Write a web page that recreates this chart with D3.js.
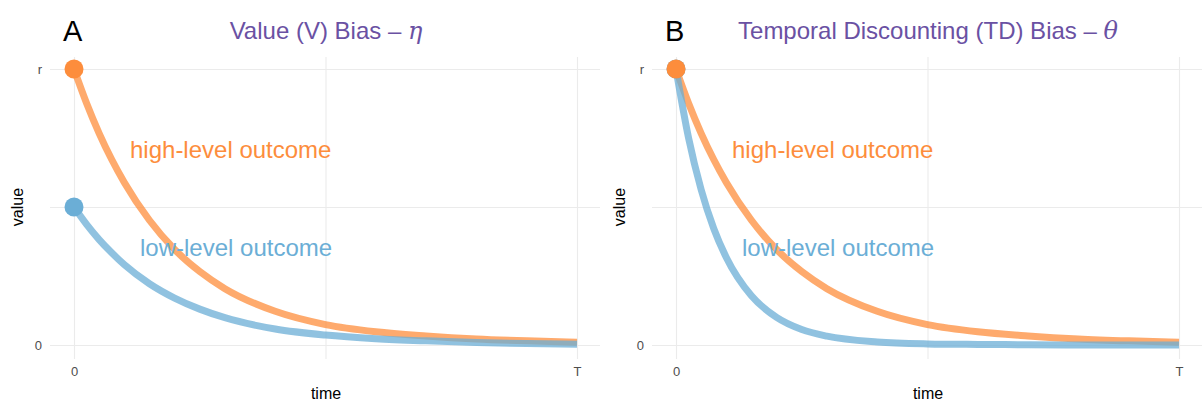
<!DOCTYPE html>
<html>
<head>
<meta charset="utf-8">
<script src="https://cdn.jsdelivr.net/npm/d3@7"></script>
<style>
  body { margin: 0; background: #fff; }
  svg { font-family: "Liberation Sans", Arial, Helvetica, sans-serif; }
  .grid line { stroke: #ebebeb; stroke-width: 1.1; }
  .grid path { display: none; }
  .tick-lab text { fill: #4d4d4d; font-size: 13px; }
  .tick-lab path, .tick-lab line { display: none; }
</style>
</head>
<body>
<div class="Chart"></div>
<script>
// time grid (0 .. T) and values (0 .. r)
var timePoints = [0, 0.025, 0.05, 0.075, 0.1, 0.15, 0.2, 0.25, 0.3, 0.4, 0.5, 0.6, 0.7, 0.8, 0.9, 1.0];
var highA = [1, 0.876, 0.767, 0.672, 0.589, 0.452, 0.346, 0.266, 0.204, 0.122, 0.074, 0.048, 0.033, 0.022, 0.015, 0.010];
var lowA  = [0.5, 0.437, 0.382, 0.334, 0.291, 0.222, 0.170, 0.130, 0.099, 0.058, 0.036, 0.023, 0.015, 0.009, 0.005, 0.003];
var highB = highA;
var lowB  = [1, 0.750, 0.563, 0.422, 0.317, 0.178, 0.100, 0.056, 0.032, 0.011, 0.004, 0.002, 0.001, 0.000, 0.000, 0.000];

var xTicks = [0, 0.5, 1], xTickLabels = ["0", "", "T"];
var yTicks = [0, 0.5, 1], yTickLabels = ["0", "", "r"];

var panels = [
	{ tag: "A", title: "Value (V) Bias \u2013 ", sym: "\u03b7", high: highA, low: lowA, dx: 0 },
	{ tag: "B", title: "Temporal Discounting (TD) Bias \u2013 ", sym: "\u03b8", high: highB, low: lowB, dx: 602 }
];

var orange = "#fd8d3c", blue = "#6baed6", purple = "#6a51a3";

var svg = d3.select(".Chart").append("svg")
	.attr("width", 1203)
	.attr("height", 401);

panels.forEach(function(p){
	var g = svg.append("g").attr("transform", "translate(" + p.dx + ",0)");

	var x = d3.scaleLinear().domain([0, 1]).range([74, 577]);
	var y = d3.scaleLinear().domain([0, 1]).range([345, 69]);

	//grid lines
	g.append("g").attr("class", "grid")
		.attr("transform", "translate(0,57)")
		.call(d3.axisBottom(x).tickValues(xTicks).tickSize(302).tickFormat(""));
	g.append("g").attr("class", "grid")
		.attr("transform", "translate(50,0)")
		.call(d3.axisRight(y).tickValues(yTicks).tickSize(550).tickFormat(""));

	//tick labels
	g.append("g").attr("class", "tick-lab")
		.attr("transform", "translate(0,367)")
		.call(d3.axisBottom(x).tickValues(xTicks).tickSize(0).tickPadding(0)
			.tickFormat(function(d, i){ return xTickLabels[i]; }));
	g.append("g").attr("class", "tick-lab")
		.attr("transform", "translate(42,0)")
		.call(d3.axisLeft(y).tickValues(yTicks).tickSize(0).tickPadding(0)
			.tickFormat(function(d, i){ return yTickLabels[i]; }));

	//axis titles
	g.append("text")
		.attr("x", 326).attr("y", 399)
		.attr("text-anchor", "middle")
		.style("font-size", "16px")
		.text("time");
	g.append("text")
		.attr("transform", "translate(23,207) rotate(-90)")
		.attr("text-anchor", "middle")
		.style("font-size", "16px")
		.text("value");

	//curves
	var line = d3.line()
		.x(function(d){ return x(d[0]); })
		.y(function(d){ return y(d[1]); })
		.curve(d3.curveMonotoneX);

	g.append("path")
		.datum(timePoints.map(function(t, i){ return [t, p.high[i]]; }))
		.attr("d", line)
		.style("fill", "none")
		.style("stroke", orange)
		.style("stroke-width", 7)
		.style("opacity", 0.75);
	g.append("path")
		.datum(timePoints.map(function(t, i){ return [t, p.low[i]]; }))
		.attr("d", line)
		.style("fill", "none")
		.style("stroke", blue)
		.style("stroke-width", 7)
		.style("opacity", 0.75);

	//start points
	g.append("circle")
		.attr("cx", x(0)).attr("cy", y(p.low[0])).attr("r", 9.5)
		.style("fill", blue);
	g.append("circle")
		.attr("cx", x(0)).attr("cy", y(p.high[0])).attr("r", 9.5)
		.style("fill", orange);

	//curve labels
	g.append("text")
		.attr("x", 130).attr("y", 158)
		.style("font-size", "24px")
		.style("fill", orange)
		.text("high-level outcome");
	g.append("text")
		.attr("x", 140).attr("y", 256)
		.style("font-size", "24px")
		.style("fill", blue)
		.text("low-level outcome");

	//panel tag and title
	g.append("text")
		.attr("x", 63).attr("y", 41)
		.style("font-size", "29px")
		.text(p.tag);
	var title = g.append("text")
		.attr("x", 326).attr("y", 39)
		.attr("text-anchor", "middle")
		.style("font-size", "24px")
		.style("fill", purple)
		.text(p.title);
	title.append("tspan")
		.style("font-family", "'DejaVu Serif', 'Liberation Serif', serif")
		.style("font-style", "italic")
		.text(p.sym);
});
</script>
</body>
</html>
